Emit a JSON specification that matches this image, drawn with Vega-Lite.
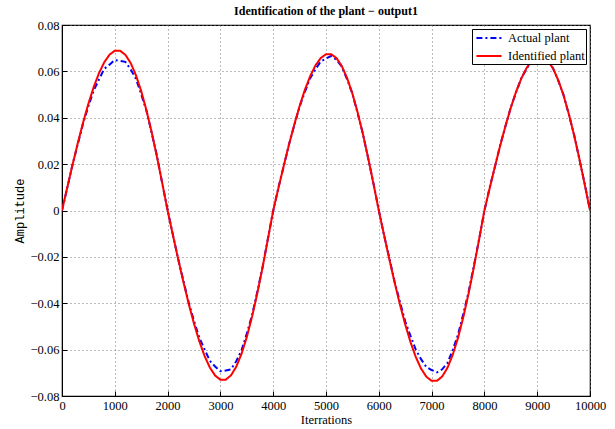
{
  "$schema": "https://vega.github.io/schema/vega-lite/v6.json",
  "autosize": "none",
  "width": 528,
  "height": 371,
  "padding": {"left": 62, "top": 25, "right": 25, "bottom": 33},
  "background": "white",
  "title": {
    "text": "Identification of the plant − output1",
    "font": "Liberation Serif",
    "fontSize": 12,
    "fontWeight": "bold",
    "color": "black",
    "anchor": "middle",
    "frame": "group",
    "offset": 1
  },
  "config": {
    "view": {"stroke": "black", "strokeWidth": 1.2},
    "axis": {
      "labelFont": "Liberation Serif",
      "labelFontSize": 12.5,
      "labelColor": "black",
      "titleColor": "black",
      "titleFontWeight": "normal",
      "domainColor": "black",
      "tickColor": "black",
      "gridColor": "#777",
      "gridDash": [1, 3],
      "gridOpacity": 1,
      "gridWidth": 1,
      "tickSize": -5,
      "tickWidth": 1
    }
  },
  "data": {
    "values": [
      {"it": 0, "Actual plant": 0, "Identified plant": 0},
      {"it": 100, "Actual plant": 0.0098, "Identified plant": 0.00996},
      {"it": 200, "Actual plant": 0.0199, "Identified plant": 0.01974},
      {"it": 300, "Actual plant": 0.0287, "Identified plant": 0.02915},
      {"it": 400, "Actual plant": 0.0376, "Identified plant": 0.03798},
      {"it": 500, "Actual plant": 0.0450, "Identified plant": 0.04605},
      {"it": 600, "Actual plant": 0.0517, "Identified plant": 0.05321},
      {"it": 700, "Actual plant": 0.0565, "Identified plant": 0.05921},
      {"it": 800, "Actual plant": 0.0611, "Identified plant": 0.06392},
      {"it": 900, "Actual plant": 0.0629, "Identified plant": 0.06719},
      {"it": 1000, "Actual plant": 0.0649, "Identified plant": 0.06889},
      {"it": 1100, "Actual plant": 0.0645, "Identified plant": 0.06889},
      {"it": 1200, "Actual plant": 0.0641, "Identified plant": 0.06714},
      {"it": 1300, "Actual plant": 0.0609, "Identified plant": 0.06363},
      {"it": 1400, "Actual plant": 0.0568, "Identified plant": 0.05834},
      {"it": 1500, "Actual plant": 0.0502, "Identified plant": 0.05151},
      {"it": 1600, "Actual plant": 0.0430, "Identified plant": 0.04316},
      {"it": 1700, "Actual plant": 0.0333, "Identified plant": 0.03358},
      {"it": 1800, "Actual plant": 0.0234, "Identified plant": 0.02301},
      {"it": 1900, "Actual plant": 0.0115, "Identified plant": 0.01164},
      {"it": 2000, "Actual plant": 0.0003, "Identified plant": 0},
      {"it": 2100, "Actual plant": -0.0104, "Identified plant": -0.01056},
      {"it": 2200, "Actual plant": -0.0209, "Identified plant": -0.02091},
      {"it": 2300, "Actual plant": -0.0303, "Identified plant": -0.03088},
      {"it": 2400, "Actual plant": -0.0398, "Identified plant": -0.04023},
      {"it": 2500, "Actual plant": -0.0476, "Identified plant": -0.04878},
      {"it": 2600, "Actual plant": -0.0548, "Identified plant": -0.05636},
      {"it": 2700, "Actual plant": -0.0599, "Identified plant": -0.06272},
      {"it": 2800, "Actual plant": -0.0648, "Identified plant": -0.06772},
      {"it": 2900, "Actual plant": -0.0673, "Identified plant": -0.07118},
      {"it": 3000, "Actual plant": -0.0693, "Identified plant": -0.07297},
      {"it": 3100, "Actual plant": -0.0690, "Identified plant": -0.07297},
      {"it": 3200, "Actual plant": -0.0685, "Identified plant": -0.07113},
      {"it": 3300, "Actual plant": -0.0650, "Identified plant": -0.0674},
      {"it": 3400, "Actual plant": -0.0603, "Identified plant": -0.0618},
      {"it": 3500, "Actual plant": -0.0531, "Identified plant": -0.05457},
      {"it": 3600, "Actual plant": -0.0451, "Identified plant": -0.04572},
      {"it": 3700, "Actual plant": -0.0349, "Identified plant": -0.03558},
      {"it": 3800, "Actual plant": -0.0243, "Identified plant": -0.02438},
      {"it": 3900, "Actual plant": -0.0120, "Identified plant": -0.01233},
      {"it": 4000, "Actual plant": -0.0002, "Identified plant": 0},
      {"it": 4100, "Actual plant": 0.0100, "Identified plant": 0.009748},
      {"it": 4200, "Actual plant": 0.0191, "Identified plant": 0.019313},
      {"it": 4300, "Actual plant": 0.0286, "Identified plant": 0.028514},
      {"it": 4400, "Actual plant": 0.0367, "Identified plant": 0.037153},
      {"it": 4500, "Actual plant": 0.0448, "Identified plant": 0.045049},
      {"it": 4600, "Actual plant": 0.0511, "Identified plant": 0.052052},
      {"it": 4700, "Actual plant": 0.0570, "Identified plant": 0.05792},
      {"it": 4800, "Actual plant": 0.0609, "Identified plant": 0.062537},
      {"it": 4900, "Actual plant": 0.0643, "Identified plant": 0.065734},
      {"it": 5000, "Actual plant": 0.0655, "Identified plant": 0.06739},
      {"it": 5100, "Actual plant": 0.0667, "Identified plant": 0.06739},
      {"it": 5200, "Actual plant": 0.0649, "Identified plant": 0.065687},
      {"it": 5300, "Actual plant": 0.0620, "Identified plant": 0.062246},
      {"it": 5400, "Actual plant": 0.0566, "Identified plant": 0.057075},
      {"it": 5500, "Actual plant": 0.0504, "Identified plant": 0.050396},
      {"it": 5600, "Actual plant": 0.0419, "Identified plant": 0.042223},
      {"it": 5700, "Actual plant": 0.0330, "Identified plant": 0.032854},
      {"it": 5800, "Actual plant": 0.0223, "Identified plant": 0.022511},
      {"it": 5900, "Actual plant": 0.0116, "Identified plant": 0.011391},
      {"it": 6000, "Actual plant": 0.0001, "Identified plant": 0},
      {"it": 6100, "Actual plant": -0.0107, "Identified plant": -0.010628},
      {"it": 6200, "Actual plant": -0.0206, "Identified plant": -0.021056},
      {"it": 6300, "Actual plant": -0.0308, "Identified plant": -0.031087},
      {"it": 6400, "Actual plant": -0.0394, "Identified plant": -0.040506},
      {"it": 6500, "Actual plant": -0.0478, "Identified plant": -0.049114},
      {"it": 6600, "Actual plant": -0.0541, "Identified plant": -0.056749},
      {"it": 6700, "Actual plant": -0.0600, "Identified plant": -0.063146},
      {"it": 6800, "Actual plant": -0.0641, "Identified plant": -0.06818},
      {"it": 6900, "Actual plant": -0.0675, "Identified plant": -0.071666},
      {"it": 7000, "Actual plant": -0.0688, "Identified plant": -0.073472},
      {"it": 7100, "Actual plant": -0.0698, "Identified plant": -0.073472},
      {"it": 7200, "Actual plant": -0.0685, "Identified plant": -0.071614},
      {"it": 7300, "Actual plant": -0.0658, "Identified plant": -0.067863},
      {"it": 7400, "Actual plant": -0.0602, "Identified plant": -0.062225},
      {"it": 7500, "Actual plant": -0.0536, "Identified plant": -0.054943},
      {"it": 7600, "Actual plant": -0.0446, "Identified plant": -0.046033},
      {"it": 7700, "Actual plant": -0.0352, "Identified plant": -0.035818},
      {"it": 7800, "Actual plant": -0.0239, "Identified plant": -0.024542},
      {"it": 7900, "Actual plant": -0.0124, "Identified plant": -0.012418},
      {"it": 8000, "Actual plant": -0.0001, "Identified plant": 0},
      {"it": 8100, "Actual plant": 0.0099, "Identified plant": 0.009589},
      {"it": 8200, "Actual plant": 0.0189, "Identified plant": 0.018999},
      {"it": 8300, "Actual plant": 0.0283, "Identified plant": 0.02805},
      {"it": 8400, "Actual plant": 0.0364, "Identified plant": 0.036548},
      {"it": 8500, "Actual plant": 0.0445, "Identified plant": 0.044316},
      {"it": 8600, "Actual plant": 0.0510, "Identified plant": 0.051205},
      {"it": 8700, "Actual plant": 0.0571, "Identified plant": 0.056977},
      {"it": 8800, "Actual plant": 0.0612, "Identified plant": 0.061519},
      {"it": 8900, "Actual plant": 0.0647, "Identified plant": 0.064665},
      {"it": 9000, "Actual plant": 0.0658, "Identified plant": 0.066294},
      {"it": 9100, "Actual plant": 0.0663, "Identified plant": 0.066294},
      {"it": 9200, "Actual plant": 0.0644, "Identified plant": 0.064618},
      {"it": 9300, "Actual plant": 0.0614, "Identified plant": 0.061233},
      {"it": 9400, "Actual plant": 0.0559, "Identified plant": 0.056146},
      {"it": 9500, "Actual plant": 0.0498, "Identified plant": 0.049576},
      {"it": 9600, "Actual plant": 0.0414, "Identified plant": 0.041536},
      {"it": 9700, "Actual plant": 0.0326, "Identified plant": 0.032319},
      {"it": 9800, "Actual plant": 0.0220, "Identified plant": 0.022145},
      {"it": 9900, "Actual plant": 0.0115, "Identified plant": 0.011205},
      {"it": 10000, "Actual plant": 0.0002, "Identified plant": 0}
    ]
  },
  "transform": [
    {"fold": ["Actual plant", "Identified plant"], "as": ["series", "value"]}
  ],
  "mark": {"type": "line", "strokeWidth": 2, "clip": true},
  "encoding": {
    "x": {
      "field": "it",
      "type": "quantitative",
      "scale": {"domain": [0, 10000], "nice": false, "zero": false},
      "axis": {
        "title": "Iterrations",
        "titleFont": "Liberation Serif",
        "titleFontSize": 12.5,
        "titlePadding": 2,
        "values": [0, 1000, 2000, 3000, 4000, 5000, 6000, 7000, 8000, 9000, 10000],
        "format": "d",
        "labelPadding": 8,
        "labelFlush": false
      }
    },
    "y": {
      "field": "value",
      "type": "quantitative",
      "scale": {"domain": [-0.08, 0.08], "nice": false, "zero": false},
      "axis": {
        "title": "Amplitude",
        "titleFont": "Liberation Mono",
        "titleFontSize": 12,
        "titlePadding": 4,
        "values": [-0.08, -0.06, -0.04, -0.02, 0, 0.02, 0.04, 0.06, 0.08],
        "labelExpr": "datum.value == 0 ? '0' : format(datum.value, '.2f')",
        "labelPadding": 8,
        "labelFlush": false
      }
    },
    "color": {
      "field": "series",
      "type": "nominal",
      "scale": {"domain": ["Actual plant", "Identified plant"], "range": ["#0000ff", "#ff0000"]},
      "legend": {
        "title": null,
        "orient": "top-right",
        "offset": 4,
        "strokeColor": "black",
        "fillColor": "white",
        "padding": 1,
        "cornerRadius": 0,
        "symbolType": "M-1.8,0H1.8",
        "symbolSize": 196,
        "symbolStrokeWidth": 2,
        "symbolOffset": 8,
        "labelFont": "Liberation Serif",
        "labelFontSize": 12.5,
        "labelColor": "black",
        "rowPadding": 3,
        "labelOffset": 11
      }
    },
    "strokeDash": {
      "field": "series",
      "type": "nominal",
      "scale": {"domain": ["Actual plant", "Identified plant"], "range": [[6, 3, 2, 3], [1, 0]]},
      "legend": {
        "title": null,
        "orient": "top-right",
        "offset": 4,
        "strokeColor": "black",
        "fillColor": "white",
        "padding": 1,
        "cornerRadius": 0,
        "symbolType": "M-1.8,0H1.8",
        "symbolSize": 196,
        "symbolStrokeWidth": 2,
        "symbolOffset": 8,
        "labelFont": "Liberation Serif",
        "labelFontSize": 12.5,
        "labelColor": "black",
        "rowPadding": 3,
        "labelOffset": 11
      }
    }
  }
}
